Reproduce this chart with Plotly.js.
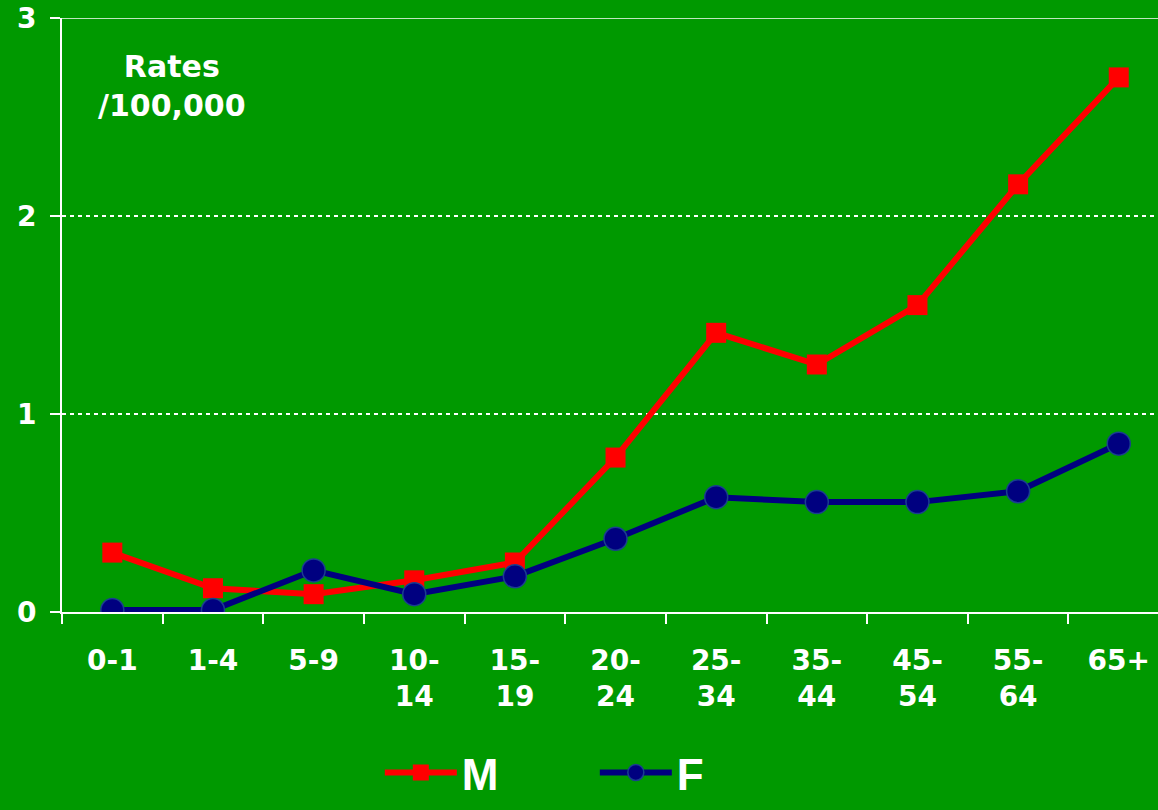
<!DOCTYPE html>
<html>
<head>
<meta charset="utf-8">
<script src="https://cdn.plot.ly/plotly-3.0.1.min.js"></script>
<style>html,body{margin:0;padding:0;background:#009900;}#chart{width:1158px;height:810px;}</style>
</head>
<body>
<div id="chart"></div>
<script>
const categories = ["0-1", "1-4", "5-9", "10-<br>14", "15-<br>19", "20-<br>24", "25-<br>34", "35-<br>44", "45-<br>54", "55-<br>64", "65+"];
const maleRates = [0.30, 0.12, 0.09, 0.16, 0.25, 0.78, 1.41, 1.25, 1.55, 2.16, 2.70];
const femaleRates = [0.01, 0.01, 0.21, 0.09, 0.18, 0.37, 0.58, 0.555, 0.555, 0.61, 0.85];
const yTicks = [0, 1, 2, 3];

const FONT = "DejaVu Sans, Verdana, sans-serif";
const LEGEND_FONT = "Liberation Sans, Arial, sans-serif";

const traces = [
  {
    x: categories, y: maleRates, name: "M", type: "scatter", mode: "lines+markers",
    line: {color: "#ff0000", width: 6},
    marker: {symbol: "square", size: 20, color: "#ff0000"}
  },
  {
    x: categories, y: femaleRates, name: "F", type: "scatter", mode: "lines+markers",
    line: {color: "#000080", width: 6},
    marker: {symbol: "circle", size: 23, color: "#000080", line: {color: "#1a3f8f", width: 1.5}}
  }
];

const layout = {
  width: 1158, height: 810,
  paper_bgcolor: "#009900", plot_bgcolor: "#009900",
  margin: {l: 62, r: 0, t: 18, b: 198, autoexpand: false},
  font: {family: FONT, color: "#ffffff"},
  showlegend: true,
  legend: {
    orientation: "h", xref: "container", yref: "container",
    x: 0.328, xanchor: "left", y: 0.002, yanchor: "bottom",
    font: {family: LEGEND_FONT, size: 44, color: "#ffffff", weight: "bold"},
    itemwidth: 72, bgcolor: "rgba(0,0,0,0)", tracegroupgap: 0, entrywidth: 128
  },
  xaxis: {
    type: "category", range: [-0.5, 10.39], automargin: false,
    showline: true, linecolor: "#ffffff", linewidth: 2,
    ticks: "outside", tickson: "boundaries", ticklen: 10, tickcolor: "#ffffff", tickwidth: 2,
    showgrid: false, zeroline: false,
    tickfont: {family: FONT, size: 28, color: "#ffffff", weight: "bold"},
    ticklabelstandoff: 22, fixedrange: true
  },
  yaxis: {
    range: [0, 3], tickvals: yTicks, ticktext: yTicks.map(String), automargin: false,
    showline: true, linecolor: "#ffffff", linewidth: 2,
    ticks: "outside", ticklen: 10, tickcolor: "#ffffff", tickwidth: 2,
    showgrid: true, gridcolor: "#ffffff", griddash: "4px,4px", gridwidth: 2,
    zeroline: false,
    tickfont: {family: FONT, size: 28, color: "#ffffff", weight: "bold"},
    ticklabelstandoff: 8, fixedrange: true
  },
  shapes: [
    {type: "line", xref: "paper", yref: "y", x0: 0, x1: 1, y0: 3, y1: 3, line: {color: "#ffffff", width: 1.5}, layer: "above"}
  ],
  annotations: [
    {xref: "paper", yref: "paper", x: 0.1, y: 0.952, xanchor: "center", yanchor: "top",
     text: "Rates<br>/100,000", showarrow: false, align: "center",
     font: {family: FONT, size: 30, color: "#ffffff", weight: "bold"}}
  ]
};

Plotly.newPlot("chart", traces, layout, {displayModeBar: false, staticPlot: true});
</script>
</body>
</html>
